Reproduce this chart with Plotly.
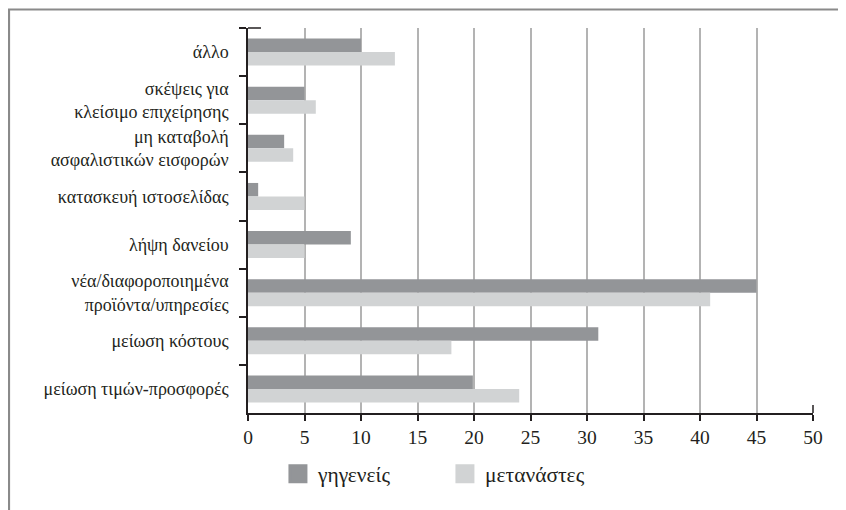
import plotly.graph_objects as go

categories = [
    "άλλο",
    "σκέψεις για<br>κλείσιμο επιχείρησης",
    "μη καταβολή<br>ασφαλιστικών εισφορών",
    "κατασκευή ιστοσελίδας",
    "λήψη δανείου",
    "νέα/διαφοροποιημένα<br>προϊόντα/υπηρεσίες",
    "μείωση κόστους",
    "μείωση τιμών-προσφορές",
]
native = [10, 5, 3.2, 0.9, 9.1, 45, 31, 19.9]
migrants = [13, 6, 4, 5, 5, 40.9, 18, 24]
series_names = ["γηγενείς", "μετανάστες"]
x_ticks = [0, 5, 10, 15, 20, 25, 30, 35, 40, 45, 50]

DARK = "#939598"
LIGHT = "#d1d3d4"
TXT = "#231f20"
FONT = "Liberation Serif, Times New Roman, serif"

fig = go.Figure()
fig.add_trace(go.Bar(y=categories, x=native, orientation="h", name=series_names[0],
                     marker=dict(color=DARK, line=dict(width=0)), showlegend=False))
fig.add_trace(go.Bar(y=categories, x=migrants, orientation="h", name=series_names[1],
                     marker=dict(color=LIGHT, line=dict(width=0)), showlegend=False))
# legend proxies
for nm, col in zip(series_names, [DARK, LIGHT]):
    fig.add_trace(go.Scatter(x=[None], y=[None], mode="markers", name=nm,
                             marker=dict(symbol="square", size=16, color=col,
                                         line=dict(width=3, color=col))))

# page has an 8px body margin: plot area (page px) x 248..813, y 28..413
fig.update_layout(
    width=838, height=502,
    margin=dict(l=240, r=33, t=20, b=97),
    paper_bgcolor="white", plot_bgcolor="white",
    font=dict(family=FONT, color=TXT, size=18),
    barmode="group", bargap=0.44, bargroupgap=0,
    showlegend=True,
    legend=dict(orientation="h", x=0.053, xanchor="left", y=-0.158, yanchor="middle",
                font=dict(size=21.5, family=FONT, color=TXT),
                entrywidth=122, entrywidthmode="pixels", itemsizing="trace",
                bgcolor="rgba(0,0,0,0)"),
    xaxis=dict(range=[0, 50], tickvals=x_ticks, ticktext=[str(v) for v in x_ticks],
               showgrid=True, gridcolor="#b3b3b3", gridwidth=1.5,
               showline=True, linecolor="#231f20", linewidth=1.5,
               ticks="outside", ticklen=6, tickcolor="#231f20", tickwidth=1.5,
               ticklabelstandoff=0,
               tickfont=dict(size=19.5, family=FONT, color=TXT),
               zeroline=False, fixedrange=True),
    yaxis=dict(autorange="reversed", type="category",
               showline=True, linecolor="#231f20", linewidth=1.5,
               ticks="outside", ticklen=7, tickcolor="#231f20", tickwidth=1.5,
               tickson="boundaries", ticklabelstandoff=14,
               tickfont=dict(size=18, family=FONT, color=TXT),
               showgrid=False, zeroline=False, fixedrange=True),
)

W, H = 565.0, 385.0
def px(xp):
    return (xp - 248) / W
def py(yp):
    return (413 - yp) / H

# outer frame (left & top)
fig.add_shape(type="path", xref="paper", yref="paper",
              path=f"M {px(9)} {py(510)} L {px(9)} {py(9.5)} L {px(846)} {py(9.5)}",
              line=dict(color="#8a8a8a", width=2.2))
# small tick at the top of the category axis pointing right
fig.add_shape(type="line", xref="paper", yref="paper",
              x0=0, x1=px(261), y0=1, y1=1, line=dict(color="#231f20", width=1.5))
# small upward tick at the end of the value axis
fig.add_shape(type="line", xref="paper", yref="paper",
              x0=1, x1=1, y0=0, y1=py(405), line=dict(color="#231f20", width=1.5))

fig.write_html("out.html")
